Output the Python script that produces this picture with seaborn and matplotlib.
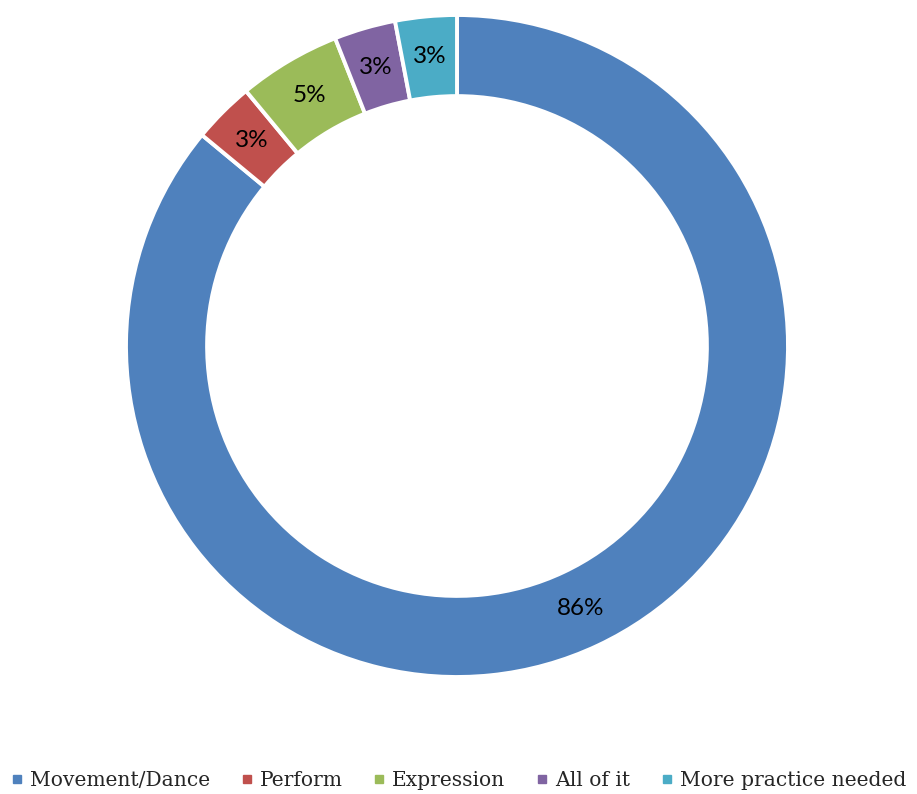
import matplotlib
matplotlib.use("Agg")
import matplotlib.pyplot as plt
from matplotlib.lines import Line2D
import seaborn as sns

categories = ["Movement/Dance", "Perform", "Expression", "All of it", "More practice needed"]
shares = [86, 3, 5, 3, 3]
colors = ["#4F81BD", "#C0504D", "#9BBB59", "#8064A2", "#4BACC6"]

sns.set_theme(style="white")
palette = sns.color_palette(colors)

W, H = 917, 794
fig = plt.figure(figsize=(W / 100, H / 100), dpi=100)
cx, cy, r = 457, 346, 331
ax = fig.add_axes([(cx - r) / W, (H - cy - r) / H, 2 * r / W, 2 * r / H])

ring = 0.245
wedges, texts, autotexts = ax.pie(
    shares,
    colors=palette,
    startangle=90,
    counterclock=False,
    radius=1,
    autopct=lambda p: f"{p:.0f}%",
    pctdistance=1 - ring / 2,
    wedgeprops=dict(width=ring, edgecolor="white", linewidth=2.8),
    textprops=dict(fontsize=17.5, color="black", family=["Lato", "DejaVu Sans"]),
)
ax.set_xlim(-1, 1)
ax.set_ylim(-1, 1)
ax.set_aspect("equal")
ax.axis("off")

handles = [
    Line2D([], [], marker="s", linestyle="none", markersize=5.5,
           markerfacecolor=c, markeredgecolor=c)
    for c in palette
]
fig.legend(
    handles, categories,
    loc="center", bbox_to_anchor=(0.5, 1 - 781 / H),
    ncol=5, frameon=False,
    handlelength=0.6, handletextpad=0.35, columnspacing=1.5,
    prop=dict(family=["DejaVu Serif"], size=14.6),
)

fig.savefig("out.png", dpi=100, facecolor="white")
